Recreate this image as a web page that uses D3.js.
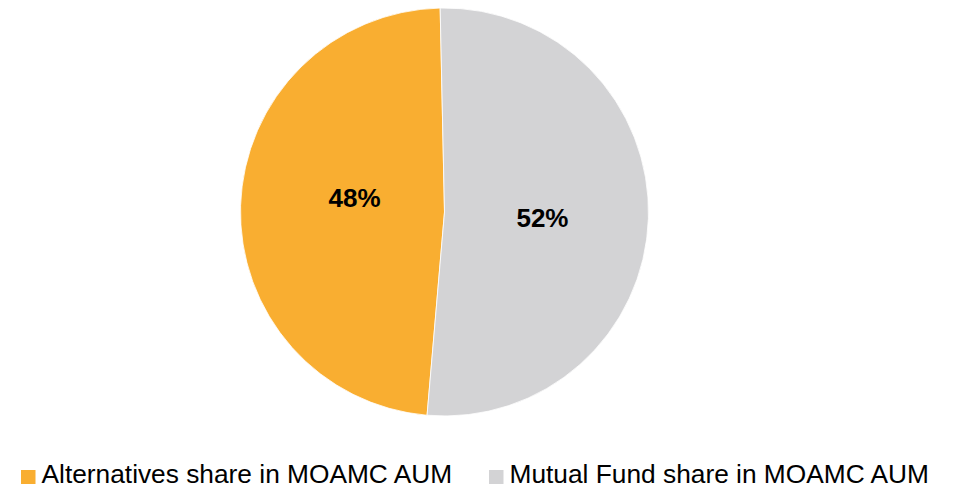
<!DOCTYPE html>
<html>
<head>
<meta charset="utf-8">
<script src="https://cdn.jsdelivr.net/npm/d3@7"></script>
<style>
  html, body { margin: 0; padding: 0; background: #fff; }
  svg { display: block; }
</style>
</head>
<body>
<svg id="chart" width="955" height="489"></svg>
<script>
const categories = ["Alternatives share in MOAMC AUM", "Mutual Fund share in MOAMC AUM"];
const values = [48.3, 51.7];
const labels = ["48%", "52%"];
const colors = ["#F9AE31", "#D3D3D5"];

const svg = d3.select("#chart");
const cx = 444.5, cy = 212, r = 204;
const startDeg = 184.9;

const data = categories.map((c, i) => ({ name: c, value: values[i], label: labels[i], color: colors[i] }));

const pie = d3.pie()
  .value(d => d.value)
  .sort(null)
  .startAngle(startDeg * Math.PI / 180)
  .endAngle((startDeg + 360) * Math.PI / 180);

const arcs = pie(data);
const arc = d3.arc().innerRadius(0).outerRadius(r);

const g = svg.append("g").attr("transform", `translate(${cx},${cy})`);

g.selectAll("path.slice")
  .data(arcs)
  .enter().append("path")
  .attr("class", "slice")
  .attr("d", arc)
  .attr("fill", d => d.data.color)
  .attr("stroke", "#ffffff")
  .attr("stroke-width", 0.8);

// labels (Excel best-fit style placement)
const labelArcs = [d3.arc().innerRadius(90).outerRadius(90), d3.arc().innerRadius(98).outerRadius(98)];
const labelDy = [-11, 2.5];
g.selectAll("text.pct")
  .data(arcs)
  .enter().append("text")
  .attr("class", "pct")
  .attr("x", (d, i) => labelArcs[i].centroid(d)[0])
  .attr("y", (d, i) => labelArcs[i].centroid(d)[1] + labelDy[i])
  .attr("text-anchor", "middle")
  .attr("dominant-baseline", "central")
  .attr("font-family", "Liberation Sans, Arial, sans-serif")
  .attr("font-weight", "bold")
  .attr("font-size", 26)
  .attr("fill", "#000")
  .text(d => d.data.label);

// legend
const legendX = [21, 489];
const legend = svg.append("g");
const items = legend.selectAll("g.item")
  .data(data)
  .enter().append("g")
  .attr("class", "item")
  .attr("transform", (d, i) => `translate(${legendX[i]},0)`);

items.append("rect")
  .attr("x", 0).attr("y", 470)
  .attr("width", 14.5).attr("height", 14)
  .attr("fill", d => d.color);

items.append("text")
  .attr("x", 20.5).attr("y", 483.2)
  .attr("font-family", "Liberation Sans, Arial, sans-serif")
  .attr("font-size", 26.3)
  .attr("fill", "#000")
  .text(d => d.name);
</script>
</body>
</html>
